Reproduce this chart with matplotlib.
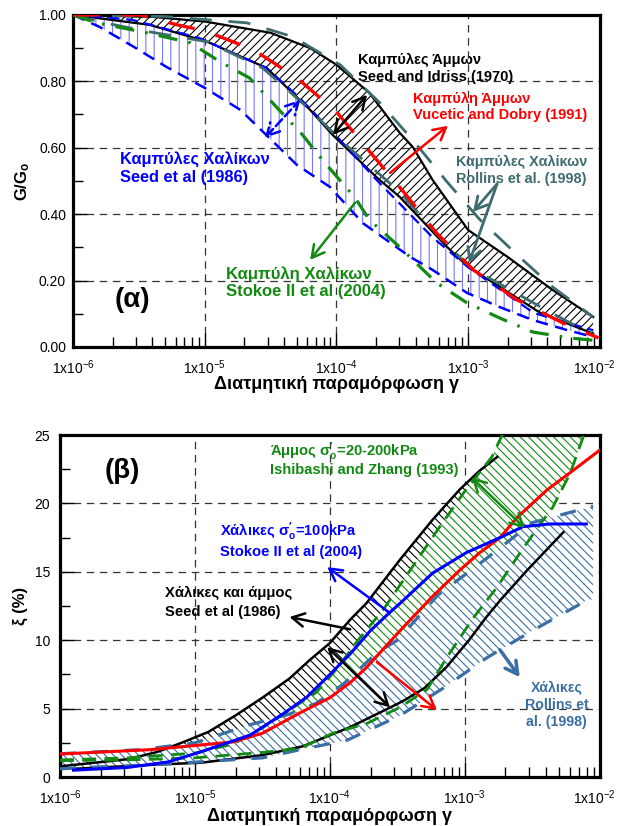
import numpy as np
import matplotlib
matplotlib.use("Agg")
import matplotlib.pyplot as plt
import matplotlib.transforms as mtransforms
from matplotlib.ticker import LogLocator, NullFormatter, MultipleLocator

plt.rcParams['font.family'] = ['Liberation Sans', 'DejaVu Sans']
plt.rcParams['mathtext.fontset'] = 'custom'
plt.rcParams['mathtext.rm'] = 'Liberation Sans'
plt.rcParams['mathtext.bf'] = 'Liberation Sans:bold'
plt.rcParams['mathtext.default'] = 'regular'
plt.rcParams['hatch.linewidth'] = 0.8

# ---- (α) G/Go : log10(γ) and G/Go values ----
sand_up_lx = [-6, -5.4, -5.0, -4.5, -4.2, -4.0, -3.75, -3.52, -3.42, -3.27, -3.0, -2.7, -2.36, -2.05]
sand_up_g = [1.0, 0.994, 0.98, 0.946, 0.9, 0.85, 0.765, 0.645, 0.602, 0.503, 0.352, 0.271, 0.172, 0.09]
sand_lo_lx = [-6, -5.42, -4.98, -4.53, -4.2, -4.03, -3.69, -3.52, -3.16, -3.0, -2.76, -2.45, -2.05]
sand_lo_g = [1.0, 0.97, 0.919, 0.84, 0.714, 0.639, 0.509, 0.452, 0.301, 0.241, 0.181, 0.102, 0.04]
vd_lx = [-6, -5.49, -5.21, -5.0, -4.63, -4.3, -4.0, -3.745, -3.49, -3.24, -2.96, -2.63, -2.28, -2.01]
vd_g = [1.0, 1.0, 0.97, 0.952, 0.895, 0.81, 0.708, 0.587, 0.467, 0.343, 0.232, 0.142, 0.072, 0.027]
grav_up_lx = [-6, -5.55, -5.04, -4.53, -4.28, -4.0, -3.7, -3.27, -3.0, -2.5, -2.05]
grav_up_g = [1.0, 0.985, 0.93, 0.84, 0.75, 0.635, 0.505, 0.33, 0.24, 0.102, 0.05]
grav_lo_lx = [-6, -5.8, -5.54, -5.29, -5.0, -4.73, -4.55, -4.3, -4.05, -3.8, -3.44, -3.27, -3.01, -2.76, -2.51, -2.25, -2.05]
grav_lo_g = [1.0, 0.964, 0.904, 0.843, 0.78, 0.714, 0.645, 0.548, 0.482, 0.373, 0.271, 0.232, 0.163, 0.12, 0.081, 0.051, 0.03]
stokoe_lx = [-6, -5.82, -5.44, -5.11, -4.88, -4.66, -4.45, -4.26, -4.1, -3.86, -3.75, -3.52, -3.24, -3.01, -2.76, -2.51, -2.23, -2.05]
stokoe_g = [1.0, 0.976, 0.946, 0.916, 0.858, 0.81, 0.72, 0.64, 0.56, 0.45, 0.383, 0.301, 0.193, 0.133, 0.087, 0.045, 0.027, 0.02]
roll_up_lx = [-6, -5.3, -4.68, -4.33, -3.97, -3.67, -3.42, -3.16, -2.91, -2.61, -2.36, -2.05]
roll_up_g = [1.0, 0.995, 0.976, 0.934, 0.849, 0.735, 0.623, 0.497, 0.383, 0.271, 0.181, 0.09]
roll_lo_lx = [-6, -5.8, -5.42, -4.98, -4.56, -4.2, -3.97, -3.52, -3.21, -2.98, -2.68, -2.38, -2.05]
roll_lo_g = [1.0, 0.979, 0.949, 0.919, 0.84, 0.714, 0.623, 0.467, 0.328, 0.238, 0.172, 0.105, 0.036]

# ---- (β) damping ξ (%) ----
seed_up_lx = [-5.98, -5.5, -5.28, -5.1, -4.9, -4.7, -4.5, -4.3, -4.15, -4.0, -3.85, -3.73, -3.48, -3.24, -3.04, -2.89, -2.76]
seed_up_d = [0.8, 1.3, 1.83, 2.5, 3.3, 4.5, 5.8, 7.2, 8.55, 9.8, 11.5, 12.7, 15.9, 18.8, 21.0, 22.4, 23.4]
seed_lo_lx = [-5.9, -5.3, -4.95, -4.5, -4.2, -3.85, -3.55, -3.45, -3.3, -3.14, -2.97, -2.84, -2.74, -2.54, -2.27]
seed_lo_d = [0.6, 0.9, 1.05, 1.6, 2.25, 3.65, 5.1, 5.6, 6.5, 8.0, 10.0, 11.7, 12.9, 15.1, 17.9]
stk_lx = [-5.9, -5.5, -5.2, -4.96, -4.59, -4.35, -4.17, -4.0, -3.85, -3.7, -3.56, -3.48, -3.24, -2.99, -2.74, -2.57, -2.37, -2.1]
stk_d = [0.5, 0.7, 1.1, 1.83, 3.07, 4.6, 5.85, 7.5, 9.0, 10.7, 12.0, 12.7, 14.9, 16.4, 17.5, 18.3, 18.5, 18.5]
vdd_lx = [-6, -5.33, -4.72, -4.5, -4.22, -4.0, -3.85, -3.73, -3.48, -3.24, -3.04, -2.89, -2.74, -2.61, -2.39, -2.2, -2.0]
vdd_d = [1.68, 2.0, 2.56, 3.2, 4.7, 5.8, 6.9, 8.0, 10.7, 13.2, 15.1, 16.4, 17.5, 19.0, 21.0, 22.4, 23.9]
ish_up_lx = [-6, -5.5, -5.0, -4.72, -4.5, -4.3, -4.1, -3.95, -3.8, -3.6, -3.4, -3.2, -3.0, -2.8, -2.7]
ish_up_d = [1.25, 1.4, 1.75, 2.4, 3.6, 4.9, 6.2, 7.9, 9.9, 12.3, 15.2, 18.1, 20.9, 23.4, 25.5]
ish_lo_lx = [-6, -5.5, -5.0, -4.5, -4.22, -3.98, -3.73, -3.48, -3.28, -3.13, -2.94, -2.76, -2.59, -2.47, -2.35, -2.22, -2.1]
ish_lo_d = [1.2, 1.25, 1.4, 1.8, 2.1, 3.2, 3.9, 5.1, 6.4, 8.8, 11.6, 13.9, 16.4, 18.1, 19.7, 22.2, 25.5]
rol_up_lx = [-6, -5.8, -5.4, -5.0, -4.6, -4.3, -4.1, -3.9, -3.65, -3.5, -3.2, -2.85, -2.5, -2.2, -2.05]
rol_up_d = [1.7, 1.8, 2.0, 2.5, 3.8, 4.6, 5.4, 6.8, 9.1, 10.0, 13.3, 15.9, 18.6, 19.4, 19.8]
rol_lo_lx = [-6, -5.8, -5.3, -4.9, -4.5, -4.22, -3.87, -3.48, -3.16, -2.84, -2.5, -2.1, -2.05]
rol_lo_d = [0.6, 0.7, 0.9, 1.15, 1.4, 2.0, 2.7, 4.5, 6.5, 8.7, 10.7, 12.9, 13.0]

decades = [1e-6, 1e-5, 1e-4, 1e-3, 1e-2]
decade_labels = ['1x10$^{-6}$', '1x10$^{-5}$', '1x10$^{-4}$', '1x10$^{-3}$', '1x10$^{-2}$']
g_ticks = [0.0, 0.2, 0.4, 0.6, 0.8, 1.0]
g_labels = ['0.00', '0.20', '0.40', '0.60', '0.80', '1.00']
d_ticks = [0, 5, 10, 15, 20, 25]
d_labels = ['0', '5', '10', '15', '20', '25']

RED = '#ff0000'
BLUE = '#0000ff'
GREEN = '#128a12'
TEAL = '#3d6b6e'
STEEL = '#3b6ea5'


def g(a):
    return 10.0 ** np.asarray(a, dtype=float)


def band(ax, lx1, y1, lx2, y2, color, hatch, face, z):
    xs = np.concatenate([g(lx1), g(lx2)[::-1]])
    ys = np.concatenate([y1, y2[::-1]])
    ax.fill(xs, ys, facecolor=face, edgecolor=color, hatch=hatch, linewidth=0, zorder=z)


def note(ax, lx, ys, lines, color, size):
    for y, s in zip(ys, lines):
        ax.text(10 ** lx, y, s, color=color, fontsize=size, fontweight='bold', va='center', zorder=10)


def arrow(ax, p0, p1, color, style='->', ls='-', lw=1.8):
    ax.annotate('', xy=(10 ** p1[0], p1[1]), xytext=(10 ** p0[0], p0[1]),
                arrowprops=dict(arrowstyle=style + ',head_length=0.55,head_width=0.3', color=color,
                                lw=lw, ls=ls, shrinkA=0, shrinkB=0, mutation_scale=16), zorder=9)


def style(ax, ymax, yticks, ylabels, yminor, ypad):
    ax.set_xscale('log')
    ax.set_xlim(1e-6, 1e-2)
    ax.set_ylim(0, ymax)
    ax.set_xticks(decades)
    ax.set_xticklabels(decade_labels)
    ax.xaxis.set_minor_locator(LogLocator(base=10, subs=np.arange(2, 10)))
    ax.xaxis.set_minor_formatter(NullFormatter())
    ax.set_yticks(yticks)
    ax.set_yticklabels(ylabels)
    ax.yaxis.set_minor_locator(MultipleLocator(yminor))
    ax.tick_params(which='both', direction='in', top=False, right=False, labelsize=10)
    ax.tick_params(which='major', length=10, width=1)
    ax.tick_params(which='minor', length=7, width=1)
    ax.tick_params(axis='x', pad=8)
    ax.tick_params(axis='y', pad=ypad)
    for s in ax.spines.values():
        s.set_linewidth(2.3)
    ax.grid(True, which='major', ls=(0, (6, 4.5)), color='#333333', lw=0.9)
    ax.set_axisbelow(True)
    # keep the last tick label inside the figure
    last = ax.get_xticklabels()[-1]
    last.set_transform(last.get_transform() +
                       mtransforms.ScaledTranslation(-4 / 72, 0, ax.figure.dpi_scale_trans))


fig = plt.figure(figsize=(6.19, 8.26), dpi=100)
ax1 = fig.add_axes([0.118, 0.580, 0.851, 0.402])
ax2 = fig.add_axes([0.097, 0.0593, 0.872, 0.414])

# ================= (α) =================
style(ax1, 1.0, g_ticks, g_labels, 0.1, 5)
band(ax1, grav_up_lx, np.array(grav_up_g), grav_lo_lx, np.array(grav_lo_g), '#7878ff', '||', 'none', 1)
band(ax1, sand_up_lx, np.array(sand_up_g), sand_lo_lx, np.array(sand_lo_g), 'black', '////', 'none', 1.5)

ax1.plot(g(sand_up_lx), sand_up_g, color='black', lw=1.6, zorder=4)
ax1.plot(g(sand_lo_lx), sand_lo_g, color='black', lw=1.6, zorder=4)
ax1.plot(g(grav_up_lx), grav_up_g, color=BLUE, lw=1.6, ls=(0, (5, 3)), zorder=5)
ax1.plot(g(grav_lo_lx), grav_lo_g, color=BLUE, lw=1.8, ls=(0, (5, 3)), zorder=5)
ax1.plot(g(roll_up_lx), roll_up_g, color=TEAL, lw=2.0, ls=(0, (8, 6)), zorder=5)
ax1.plot(g(roll_lo_lx), roll_lo_g, color=TEAL, lw=2.0, ls=(0, (8, 6)), zorder=5)
ax1.plot(g(stokoe_lx), stokoe_g, color=GREEN, lw=2.3, ls=(0, (6, 3.5, 0.8, 3.5)), zorder=6)
ax1.plot(g(vd_lx), vd_g, color=RED, lw=2.4, ls=(0, (8, 6.5)), zorder=7)

arrow(ax1, (-4.026, 0.639), (-3.768, 0.759), 'black', '<->')
arrow(ax1, (-4.542, 0.63), (-4.276, 0.744), BLUE, '<->', ls='--')
arrow(ax1, (-3.593, 0.524), (-3.153, 0.666), RED)
arrow(ax1, (-3.859, 0.434), (-4.2, 0.262), GREEN)
arrow(ax1, (-2.78, 0.491), (-2.963, 0.407), TEAL, lw=2.0)
arrow(ax1, (-2.78, 0.491), (-2.993, 0.253), TEAL, lw=2.0)

note(ax1, -3.836, [0.864, 0.813], ['Καμπύλες Άμμων', 'Seed and Idriss (1970)'], 'black', 10.5)
note(ax1, -3.418, [0.747, 0.699], ['Καμπύλη Άμμων', 'Vucetic and Dobry (1991)'], RED, 10.5)
note(ax1, -3.092, [0.557, 0.506], ['Καμπύλες Χαλίκων', 'Rollins et al. (1998)'], TEAL, 10.4)
note(ax1, -5.643, [0.566, 0.509], ['Καμπύλες Χαλίκων', 'Seed et al (1986)'], BLUE, 11.8)
note(ax1, -4.838, [0.22, 0.166], ['Καμπύλη Χαλίκων', 'Stokoe II et al (2004)'], GREEN, 12)
ax1.text(10 ** -5.552, 0.142, '(α)', fontsize=20, fontweight='bold', ha='center', va='center')

ax1.set_xlabel('Διατμητική παραμόρφωση γ', fontsize=13, fontweight='bold')
ax1.xaxis.set_label_coords(0.5, -0.087)
ax1.xaxis.label.set_va('top')
ax1.set_ylabel('G/G$_o$', fontsize=12, fontweight='bold')
ax1.yaxis.set_label_coords(-0.078, 0.5)

# ================= (β) =================
style(ax2, 25, d_ticks, d_labels, 2.5, 7)
band(ax2, seed_up_lx, np.array(seed_up_d), seed_lo_lx, np.array(seed_lo_d), 'black', '\\\\\\\\', 'white', 1)
band(ax2, ish_up_lx, np.array(ish_up_d), ish_lo_lx, np.array(ish_lo_d), GREEN, '\\\\\\\\', 'white', 1.5)
band(ax2, rol_up_lx, np.array(rol_up_d), rol_lo_lx, np.array(rol_lo_d), STEEL, '\\\\\\\\', 'white', 2)

ax2.plot(g(seed_up_lx), seed_up_d, color='black', lw=1.8, zorder=4)
ax2.plot(g(seed_lo_lx), seed_lo_d, color='black', lw=1.8, zorder=4)
ax2.plot(g(rol_up_lx), rol_up_d, color=STEEL, lw=2.3, ls=(0, (5, 5)), zorder=5)
ax2.plot(g(rol_lo_lx), rol_lo_d, color=STEEL, lw=2.3, ls=(0, (5, 5)), zorder=5)
ax2.plot(g(ish_up_lx), ish_up_d, color=GREEN, lw=2.0, ls=(0, (5, 3)), zorder=6)
ax2.plot(g(ish_lo_lx), ish_lo_d, color=GREEN, lw=2.0, ls=(0, (5, 3)), zorder=6)
ax2.plot(g(vdd_lx), vdd_d, color=RED, lw=2.2, zorder=7)
ax2.plot(g(stk_lx), stk_d, color=BLUE, lw=2.2, zorder=8)

arrow(ax2, (-4.02, 9.5), (-3.556, 5.1), 'black', '<->')
arrow(ax2, (-3.85, 10.8), (-4.3, 11.7), 'black')
arrow(ax2, (-3.556, 12.0), (-4.02, 15.35), BLUE)
arrow(ax2, (-3.652, 8.4), (-3.207, 4.9), RED)
arrow(ax2, (-2.95, 21.9), (-2.556, 18.2), GREEN, '<->')
arrow(ax2, (-2.74, 9.3), (-2.593, 7.3), STEEL, lw=2.5)

note(ax2, -4.444, [23.76, 22.44], [r"Άμμος σ$_o^{\prime}$=20-200kPa", 'Ishibashi and Zhang (1993)'], GREEN, 10.6)
note(ax2, -4.815, [17.9, 16.45], [r"Χάλικες σ$_o^{\prime}$=100kPa", 'Stokoe II et al (2004)'], BLUE, 10.6)
note(ax2, -5.222, [13.45, 12.06], ['Χάλικες και άμμος', 'Seed et al (1986)'], 'black', 10.6)
for y, s in zip([6.5, 5.26, 4.02], ['Χάλικες', 'Rollins et', 'al. (1998)']):
    ax2.text(10 ** -2.319, y, s, color=STEEL, fontsize=10.2, fontweight='bold', ha='center', va='center')
ax2.text(10 ** -5.54, 22.4, '(β)', fontsize=20, fontweight='bold', ha='center', va='center')

ax2.set_xlabel('Διατμητική παραμόρφωση γ', fontsize=13, fontweight='bold')
ax2.xaxis.set_label_coords(0.5, -0.09)
ax2.xaxis.label.set_va('top')
ax2.set_ylabel('ξ (%)', fontsize=12, fontweight='bold')
ax2.yaxis.set_label_coords(-0.059, 0.5)

fig.savefig('out.png', dpi=100)
